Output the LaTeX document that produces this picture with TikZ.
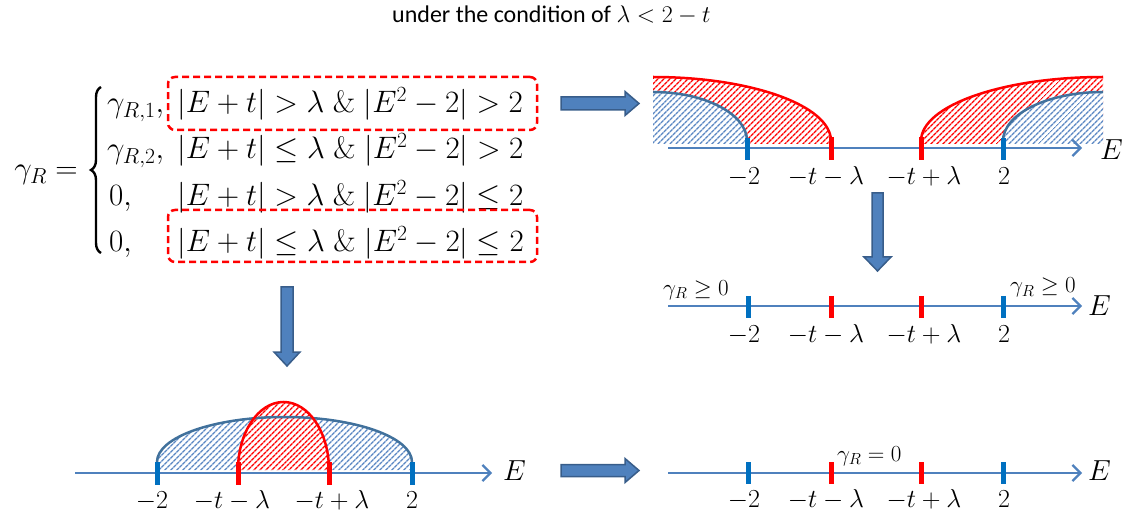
\RequirePackage{fix-cm}
\documentclass[tikz,border=0pt]{standalone}
\usepackage[no-math]{fontspec}
\setmainfont{Carlito}
\usetikzlibrary{patterns.meta,arrows.meta,decorations.pathreplacing}
\definecolor{axisblue}{HTML}{4F81BD}
\definecolor{tickblue}{HTML}{0070C0}
\definecolor{curveblue}{HTML}{41719C}
\definecolor{hatchblue}{HTML}{5A87C3}
\definecolor{arrfill}{HTML}{4F81BD}
\definecolor{arrline}{HTML}{385D8A}
\tikzset{
  eqfont/.style={font=\fontsize{31}{34}\selectfont, inner sep=0pt},
  lab/.style={font=\fontsize{26}{28}\selectfont, inner sep=0pt, anchor=base},
  elab/.style={font=\fontsize{29}{32}\selectfont, inner sep=0pt, anchor=base west},
  slab/.style={font=\fontsize{23}{25}\selectfont, inner sep=0pt, anchor=base west},
  axisline/.style={draw=axisblue, line width=2.5pt, -{Straight Barb[length=8pt,width=16pt,line width=2.2pt]}},
  tickb/.style={draw=tickblue, line width=5pt},
  tickr/.style={draw=red, line width=5pt},
  redhatch/.style={pattern={Lines[angle=45,distance=4pt,line width=1.5pt]}, pattern color=red},
  bluehatch/.style={pattern={Lines[angle=45,distance=4pt,line width=1.5pt]}, pattern color=hatchblue},
  redcurve/.style={draw=red, line width=2.5pt},
  bluecurve/.style={draw=curveblue, line width=2.5pt},
  dashbox/.style={draw=red, line width=2.5pt, dash pattern=on 7pt off 4pt, rounded corners=7pt, inner sep=0pt},
  blockarrow/.style={fill=arrfill, draw=arrline, line width=1.5pt, line join=miter},
  bracestyle/.style={draw=black, line width=2.4pt, decorate, decoration={brace, amplitude=10pt, aspect=0.5}},
}
\begin{document}
\begin{tikzpicture}[x=1pt,y=1pt]
\useasboundingbox (0,0) rectangle (1123,-518);

% title
\node[font=\fontsize{24}{26}\selectfont, inner sep=0pt, anchor=base west] (title) at (392,-23) {under the condition of $\lambda<2-t$};

% equation
\node[eqfont, anchor=base east] (gr) at (78,-179) {$\gamma_R=$};
\coordinate (bb) at (101,-253);
\coordinate (bt) at (101,-87);
\draw[bracestyle] (bb) -- (bt);
\node[eqfont, anchor=base west] (l1) at (107,-113) {$\gamma_{R,1},$};
\node[eqfont, anchor=base west] (l2) at (107,-159) {$\gamma_{R,2},$};
\node[eqfont, anchor=base west] (l3) at (109,-206) {$0,$};
\node[eqfont, anchor=base west] (l4) at (109,-252) {$0,$};
\node[eqfont, anchor=base west] (c1) at (177,-113) {$|E+t|>\lambda\;\&\;|E^2-2|>2$};
\node[eqfont, anchor=base west] (c2) at (177,-159) {$|E+t|\le\lambda\;\&\;|E^2-2|>2$};
\node[eqfont, anchor=base west] (c3) at (177,-206) {$|E+t|>\lambda\;\&\;|E^2-2|\le2$};
\node[eqfont, anchor=base west] (c4) at (177,-252) {$|E+t|\le\lambda\;\&\;|E^2-2|\le2$};
\node[dashbox, minimum width=369pt, minimum height=53pt] (box1) at (352.5,-103.5) {};
\node[dashbox, minimum width=369pt, minimum height=52pt] (box2) at (352.5,-236) {};

% block arrows
\filldraw[blockarrow] (561,-97) -- (625,-97) -- (625,-91.5) -- (639,-103.5) -- (625,-115.5) -- (625,-110) -- (561,-110) -- cycle;
\filldraw[blockarrow] (561,-464.5) -- (625,-464.5) -- (625,-458.5) -- (639,-470.5) -- (625,-482.5) -- (625,-476.5) -- (561,-476.5) -- cycle;
\filldraw[blockarrow] (872,-193) -- (883,-193) -- (883,-257) -- (891,-257) -- (877.5,-271) -- (864,-257) -- (872,-257) -- cycle;
\filldraw[blockarrow] (281,-287) -- (293,-287) -- (293,-352) -- (300,-352) -- (287,-366) -- (274,-352) -- (281,-352) -- cycle;

% ---- top-right panel
\fill[redhatch] (653,-77) arc[start angle=90, end angle=0, x radius=178, y radius=64] -- (831,-144) -- (653,-144) -- cycle;
\fill[white] (653,-92) arc[start angle=90, end angle=0, x radius=94, y radius=49] -- (747,-144) -- (653,-144) -- cycle;
\fill[bluehatch] (653,-92) arc[start angle=90, end angle=0, x radius=94, y radius=49] -- (747,-144) -- (653,-144) -- cycle;
\fill[redhatch] (921,-141) arc[start angle=180, end angle=90, x radius=182, y radius=64] -- (1103,-144) -- (921,-144) -- cycle;
\fill[white] (1003,-141) arc[start angle=180, end angle=90, x radius=100, y radius=49] -- (1103,-144) -- (1003,-144) -- cycle;
\fill[bluehatch] (1003,-141) arc[start angle=180, end angle=90, x radius=100, y radius=49] -- (1103,-144) -- (1003,-144) -- cycle;
\draw[redcurve] (653,-77) arc[start angle=90, end angle=0, x radius=178, y radius=64];
\draw[bluecurve] (653,-92) arc[start angle=90, end angle=0, x radius=94, y radius=49];
\draw[redcurve] (921,-141) arc[start angle=180, end angle=90, x radius=182, y radius=64];
\draw[bluecurve] (1003,-141) arc[start angle=180, end angle=90, x radius=100, y radius=49];
\coordinate (a1s) at (668,-148);
\coordinate (a1e) at (1082,-148);
\draw[axisline] (a1s) -- (a1e);
\draw[tickb] (747,-138) -- (747,-160);
\draw[tickr] (831,-137) -- (831,-160);
\draw[tickr] (921,-137) -- (921,-160);
\draw[tickb] (1003,-138) -- (1003,-160);
\node[lab] (t1a) at (744,-185) {$-2$};
\node[lab] (t1b) at (826,-185) {$-t-\lambda$};
\node[lab] (t1c) at (924,-185) {$-t+\lambda$};
\node[lab] (t1d) at (1004,-185) {$2$};
\node[elab] (e1) at (1100,-160) {$E$};

% ---- middle-right panel
\coordinate (a2s) at (668,-306);
\coordinate (a2e) at (1082,-306);
\draw[axisline] (a2s) -- (a2e);
\draw[tickb] (748,-296) -- (748,-318);
\draw[tickr] (831,-296) -- (831,-318);
\draw[tickr] (921,-296) -- (921,-318);
\draw[tickb] (1003,-296) -- (1003,-318);
\node[lab] (t2a) at (744,-342) {$-2$};
\node[lab] (t2b) at (826,-342) {$-t-\lambda$};
\node[lab] (t2c) at (924,-342) {$-t+\lambda$};
\node[lab] (t2d) at (1004,-342) {$2$};
\node[elab] (e2) at (1088,-315) {$E$};
\node[slab] (g2a) at (663,-295) {$\gamma_R\ge0$};
\node[slab] (g2b) at (1010,-293) {$\gamma_R\ge0$};

% ---- bottom-left panel
\fill[bluehatch] (157,-462) arc[start angle=180, end angle=0, x radius=127.5, y radius=45] -- (412,-470) -- (157,-470) -- cycle;
\fill[white] (238,-470) arc[start angle=180, end angle=0, x radius=45.5, y radius=68] -- cycle;
\fill[redhatch] (238,-470) arc[start angle=180, end angle=0, x radius=45.5, y radius=68] -- cycle;
\draw[bluecurve] (157,-462) arc[start angle=180, end angle=0, x radius=127.5, y radius=45];
\draw[redcurve] (238,-470) arc[start angle=180, end angle=0, x radius=45.5, y radius=68];
\coordinate (a3s) at (75,-473);
\coordinate (a3e) at (492,-473);
\draw[axisline] (a3s) -- (a3e);
\draw[tickb] (157,-462) -- (157,-485);
\draw[tickr] (238,-462) -- (238,-485);
\draw[tickr] (329,-462) -- (329,-485);
\draw[tickb] (412,-462) -- (412,-485);
\node[lab] (t3a) at (152,-508) {$-2$};
\node[lab] (t3b) at (232,-508) {$-t-\lambda$};
\node[lab] (t3c) at (332,-508) {$-t+\lambda$};
\node[lab] (t3d) at (412,-508) {$2$};
\node[elab] (e3) at (503,-480) {$E$};

% ---- bottom-right panel
\coordinate (a4s) at (668,-473);
\coordinate (a4e) at (1082,-473);
\draw[axisline] (a4s) -- (a4e);
\draw[tickb] (748,-462) -- (748,-484);
\draw[tickr] (831,-462) -- (831,-484);
\draw[tickr] (921,-462) -- (921,-484);
\draw[tickb] (1003,-462) -- (1003,-484);
\node[lab] (t4a) at (744,-507) {$-2$};
\node[lab] (t4b) at (826,-507) {$-t-\lambda$};
\node[lab] (t4c) at (924,-507) {$-t+\lambda$};
\node[lab] (t4d) at (1004,-507) {$2$};
\node[elab] (e4) at (1088,-480) {$E$};
\node[slab] (g4) at (837,-461) {$\gamma_R=0$};
\end{tikzpicture}
\end{document}
